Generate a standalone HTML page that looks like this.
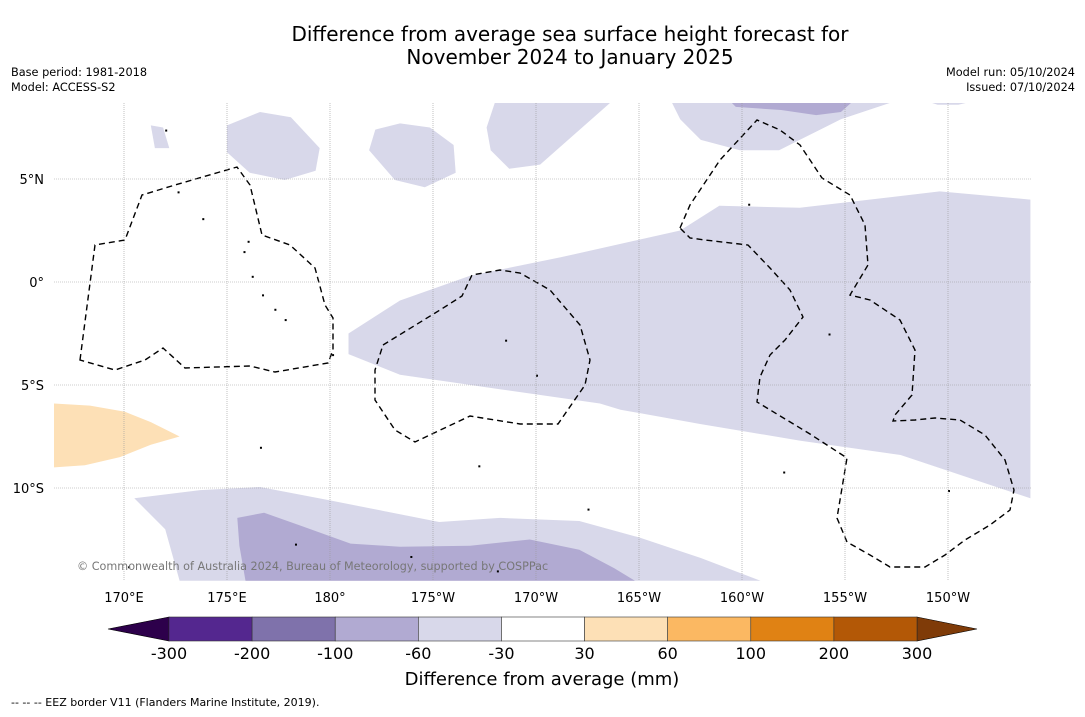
<!DOCTYPE html>
<html><head><meta charset="utf-8"><style>
body{margin:0;background:#fff;width:1085px;height:713px;overflow:hidden;font-family:"DejaVu Sans","Liberation Sans",sans-serif}
</style></head><body>
<svg id="chart" width="1085" height="713" viewBox="0 0 1085 713" xmlns="http://www.w3.org/2000/svg" font-family="DejaVu Sans, Liberation Sans, sans-serif">
<text x="570" y="41" font-size="20" text-anchor="middle">Difference from average sea surface height forecast for</text>
<text x="570" y="64" font-size="20" text-anchor="middle">November 2024 to January 2025</text>
<text x="11" y="76" font-size="11.3">Base period: 1981-2018</text>
<text x="11" y="91" font-size="11.3">Model: ACCESS-S2</text>
<text x="1075" y="76" font-size="11.3" text-anchor="end">Model run: 05/10/2024</text>
<text x="1075" y="91" font-size="11.3" text-anchor="end">Issued: 07/10/2024</text>
<defs><clipPath id="mapclip"><rect x="54" y="103" width="977" height="478"/></clipPath></defs>
<g id="map" clip-path="url(#mapclip)"></g>
<g id="axes"></g>
<g id="cbar"></g>
<text x="542" y="685" font-size="18" text-anchor="middle">Difference from average (mm)</text>
<text x="11" y="706" font-size="11">--  --  -- EEZ border V11 (Flanders Marine Institute, 2019).</text>
</svg>
<script>
const lonTicks=[170,175,180,185,190,195,200,205,210];
const lonLabels=["170°E","175°E","180°","175°W","170°W","165°W","160°W","155°W","150°W"];
const latTicks=[5,0,-5,-10];
const latLabels=["5°N","0°","5°S","10°S"];
const cbarBounds=[-300,-200,-100,-60,-30,30,60,100,200,300];
const cbarColors=["#54278f","#7f72ab","#b1aad2","#d8d8ea","#ffffff","#fde0b6","#fbb862","#e08214","#b35806"];
const cbarUnder="#2d004b", cbarOver="#7f3b08";
const regions=[
 {c:3,pts:[[180.9,-2.5],[180.9,-3.5],[183.4,-4.5],[188.2,-5.2],[193.1,-5.9],[194.1,-6.2],[198,-6.9],[202.8,-7.7],[207.7,-8.4],[214,-10.5],[214,4.0],[209.6,4.4],[202.8,3.6],[198.9,3.7],[197,2.5],[191.2,1.2],[186.8,0.3],[183.4,-0.9]]},
 {c:3,pts:[[175,7.6],[176.6,8.25],[178.1,8.0],[179.5,6.5],[179.3,5.4],[177.8,4.95],[176.1,5.3],[175,6.3]]},
 {c:3,pts:[[171.3,7.6],[171.9,7.5],[172.2,6.5],[171.5,6.5]]},
 {c:3,pts:[[182.2,7.4],[183.4,7.7],[184.85,7.5],[186,6.65],[186.1,5.3],[184.6,4.6],[183.15,4.95],[181.9,6.4]]},
 {c:3,pts:[[188,8.7],[193.6,8.7],[190.2,5.7],[188.7,5.5],[187.8,6.4],[187.6,7.5]]},
 {c:3,pts:[[196.6,8.7],[207.2,8.7],[204.8,7.9],[202.8,6.9],[201.8,6.4],[199.9,6.4],[198,6.9],[197,7.9]]},
 {c:2,pts:[[199.5,8.7],[205.3,8.7],[204.8,8.25],[203.6,8.1],[201.9,8.35],[199.7,8.5]]},
 {c:3,pts:[[209.2,8.7],[210.9,8.7],[210.5,8.6],[209.5,8.6]]},
 {c:3,pts:[[170.5,-10.5],[173.7,-10.1],[176.6,-9.95],[180,-10.6],[185.3,-11.65],[188.25,-11.45],[192.1,-11.6],[195,-12.4],[198,-13.4],[200.9,-14.5],[172.7,-14.5],[172,-12]]},
 {c:2,pts:[[175.5,-11.45],[176.8,-11.2],[178.5,-11.8],[181,-12.7],[183.4,-12.85],[186.8,-12.8],[189.7,-12.5],[192.1,-13],[193.8,-13.9],[194.8,-14.5],[175.9,-14.5],[175.6,-12.8]]},
 {c:5,pts:[[166.6,-5.9],[168.35,-6.0],[170.05,-6.3],[171.3,-6.8],[172.7,-7.5],[171.3,-7.9],[169.8,-8.5],[168.1,-8.9],[166.6,-9.0]]}
];
const islands=[[175.8,1.5],[176.2,0.3],[177.8,-1.8],[180.1,-3.5],[188.5,-2.8],[190,-4.5],[187.2,-8.9],[192.5,-11],[202,-9.2],[204.2,-2.5],[178.3,-12.7],[183.9,-13.3],[188.1,-14.0],[170.2,-13.8],[173.8,3.1],[176.6,-8.0],[210,-10.1],[200.3,3.8],[172,7.4],[176,2.0],[176.7,-0.6],[177.3,-1.3],[166.4,-0.5],[172.6,4.4]];
const NS="http://www.w3.org/2000/svg";
const X=lon=>124+(lon-170)*20.6, Y=lat=>282-lat*20.6;
const map=document.getElementById('map'),axes=document.getElementById('axes'),cb=document.getElementById('cbar');
function mk(tag,attrs,parent){const e=document.createElementNS(NS,tag);for(const k in attrs)e.setAttribute(k,attrs[k]);parent.appendChild(e);return e;}
regions.forEach((r,i)=>{
 const p=mk('polygon',{points:r.pts.map(q=>X(q[0]).toFixed(1)+','+Y(q[1]).toFixed(1)).join(' '),fill:cbarColors[r.c]},map);
 
 
});
islands.forEach((q,i)=>{
 const d=mk('rect',{x:X(q[0]),y:Y(q[1]),width:2,height:2,fill:'#000'},map);
 
 
});
const eez=[
"M80,360 L95,245 L125,240 L142,195 L175,185 L237,167 L250,185 L262,235 L290,245 L315,268 L325,305 L333,318 L333,350 L328,363 L275,372 L250,366 L185,368 L163,348 L145,360 L115,370 Z",
"M383,345 L440,310 L462,296 L472,275 L500,270 L520,273 L550,290 L580,325 L590,360 L585,385 L558,424 L520,424 L470,416 L415,442 L395,430 L375,400 L375,370 Z",
"M680,228 L690,205 L720,160 L757,120 L780,130 L800,145 L822,178 L850,195 L865,225 L868,265 L850,295 L870,300 L900,320 L915,350 L912,395 L895,415 L893,421 L915,420 L935,418 L960,420 L985,435 L1005,460 L1014,490 L1010,510 L990,525 L965,540 L945,555 L925,567 L890,567 L870,555 L847,542 L837,518 L847,458 L810,434 L757,402 L760,377 L770,355 L785,340 L803,317 L790,290 L770,268 L748,245 L705,240 L690,238 Z"];
eez.forEach((d,i)=>{const p=mk('path',{d:d,fill:'none',stroke:'#000','stroke-width':1.4,'stroke-dasharray':'6,4'},map);
 
 });
lonTicks.forEach((l,i)=>{
 const g=mk('line',{x1:X(l),x2:X(l),y1:103,y2:581,stroke:'#999','stroke-width':0.6,'stroke-dasharray':'1,1'},axes);
 
 
 const t=mk('text',{x:X(l),y:602,'font-size':13,'text-anchor':'middle'},axes);t.textContent=lonLabels[i];
 
 
});
latTicks.forEach((l,i)=>{
 const g=mk('line',{x1:54,x2:1031,y1:Y(l),y2:Y(l),stroke:'#999','stroke-width':0.6,'stroke-dasharray':'1,1'},axes);
 
 
 const t=mk('text',{x:44,y:Y(l)+5,'font-size':13,'text-anchor':'end'},axes);t.textContent=latLabels[i];
 
 
});
const cr=mk('text',{x:77,y:570,'font-size':11.2,fill:'#777'},axes);cr.textContent="© Commonwealth of Australia 2024, Bureau of Meteorology, supported by COSPPac";


const cx0=169,cw=(917-169)/cbarColors.length,cy=617,ch=24;
const u=mk('polygon',{points:`${cx0},${cy} 108,${cy+ch/2} ${cx0},${cy+ch}`,fill:cbarUnder,stroke:'#000','stroke-width':0.6},cb);


const o=mk('polygon',{points:`917,${cy} 977,${cy+ch/2} 917,${cy+ch}`,fill:cbarOver,stroke:'#000','stroke-width':0.6},cb);


cbarColors.forEach((c,i)=>{const r=mk('rect',{x:cx0+i*cw,y:cy,width:cw,height:ch,fill:c,stroke:'#333','stroke-width':0.6},cb);
 
 });
cbarBounds.forEach((b,i)=>{const t=mk('text',{x:cx0+i*cw,y:659,'font-size':16,'text-anchor':'middle'},cb);t.textContent=b;
 
 });
</script>
</body></html>
